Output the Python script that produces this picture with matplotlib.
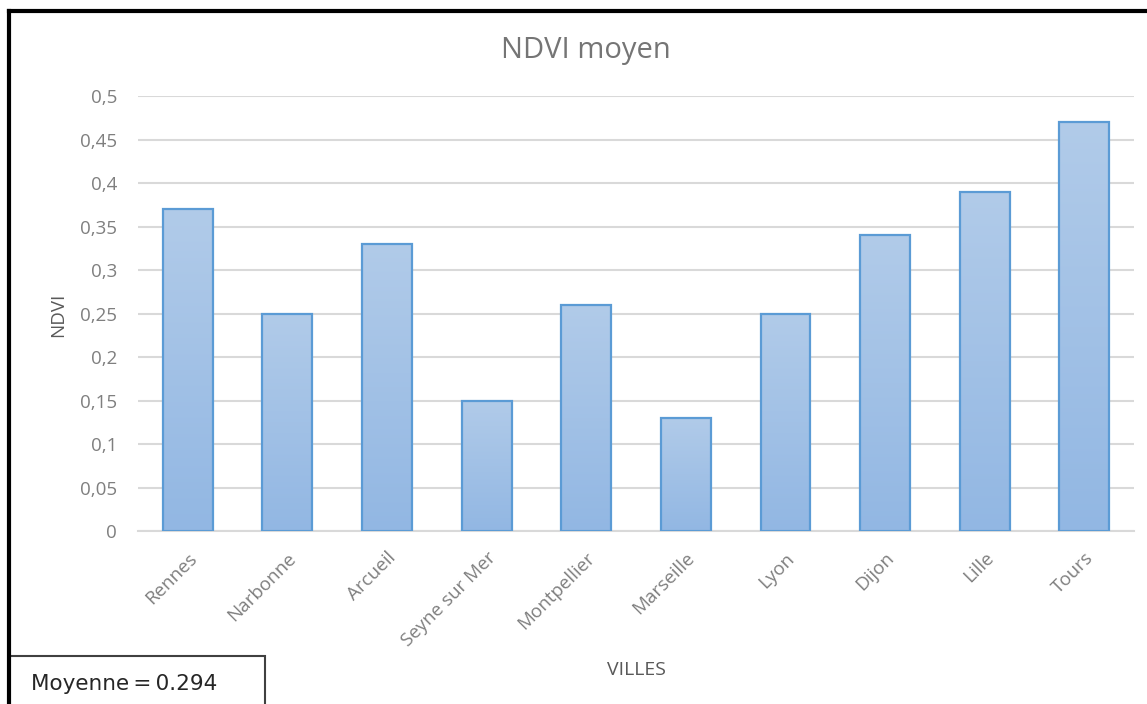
import numpy as np
import matplotlib
matplotlib.use("Agg")
import matplotlib.pyplot as plt
from matplotlib.colors import LinearSegmentedColormap
from matplotlib.patches import Rectangle
from matplotlib.lines import Line2D

villes = ["Rennes", "Narbonne", "Arcueil", "Seyne sur Mer", "Montpellier",
          "Marseille", "Lyon", "Dijon", "Lille", "Tours"]
ndvi = [0.37, 0.25, 0.33, 0.15, 0.26, 0.13, 0.25, 0.34, 0.39, 0.47]
yticks = [0, 0.05, 0.1, 0.15, 0.2, 0.25, 0.3, 0.35, 0.4, 0.45, 0.5]
ytick_labels = ["0", "0,05", "0,1", "0,15", "0,2", "0,25", "0,3", "0,35", "0,4", "0,45", "0,5"]
moyenne = np.mean(ndvi)

plt.rcParams["font.family"] = ["Open Sans", "DejaVu Sans"]
gray = "#7f7f7f"

fig = plt.figure(figsize=(11.47, 7.04), dpi=100)
ax = fig.add_axes([0.1203, 0.2457, 0.8684, 0.6179])

x = np.arange(len(villes))
bars = ax.bar(x, ndvi, width=0.5, facecolor="none", edgecolor="#5b9bd5",
              linewidth=1.6, zorder=3)

# gradient fill for each bar
cmap = LinearSegmentedColormap.from_list("grad", ["#92b7e3", "#b1cbe9"])
grad = np.linspace(0, 1, 256).reshape(-1, 1)
for b in bars:
    x0, y0 = b.get_x(), b.get_y()
    im = ax.imshow(grad, cmap=cmap, origin="lower", aspect="auto",
                   extent=[x0, x0 + b.get_width(), y0, y0 + b.get_height()],
                   zorder=2)
    im.set_clip_path(b)

ax.set_xlim(-0.5, len(villes) - 0.5)
ax.set_ylim(0, 0.5)
ax.set_yticks(yticks)
ax.set_yticklabels(ytick_labels)
ax.set_xticks(x)
ax.set_xticklabels(villes, rotation=45, ha="right", rotation_mode="anchor")
ax.tick_params(axis="y", length=0, pad=15, labelsize=13.5, labelcolor=gray)
ax.tick_params(axis="x", length=0, pad=13, labelsize=13.5, labelcolor=gray)
ax.grid(axis="y", color="#d9d9d9", linewidth=1.5, zorder=0)
for s in ["top", "right", "left"]:
    ax.spines[s].set_visible(False)
ax.spines["bottom"].set_color("#d9d9d9")
ax.spines["bottom"].set_linewidth(1.5)
ax.set_axisbelow(True)

fig.text(0.511, 0.928, "NDVI moyen", ha="center", va="center", fontsize=21, color="#757575")
fig.text(0.051, 0.553, "NDVI", rotation=90, ha="center", va="center", fontsize=13.5, color="#595959")
fig.text(0.555, 0.048, "VILLES", ha="center", va="center", fontsize=14, color="#595959")

# outer frame (top and left)
fig.add_artist(Line2D([0.008, 1.0], [0.9844, 0.9844], color="black", linewidth=3,
                      transform=fig.transFigure))
fig.add_artist(Line2D([0.008, 0.008], [0.0, 0.9844], color="black", linewidth=3,
                      transform=fig.transFigure))

# mean box
fig.add_artist(Rectangle((0.008, -0.01), 0.223, 0.078, transform=fig.transFigure,
                         facecolor="white", edgecolor="#404040", linewidth=1.5))
fig.text(0.027, 0.029, "Moyenne\u2009=\u2009%.3f" % moyenne, ha="left", va="center",
         fontsize=15.5, color="#262626", family="DejaVu Sans")

fig.savefig("out.png", dpi=100)
